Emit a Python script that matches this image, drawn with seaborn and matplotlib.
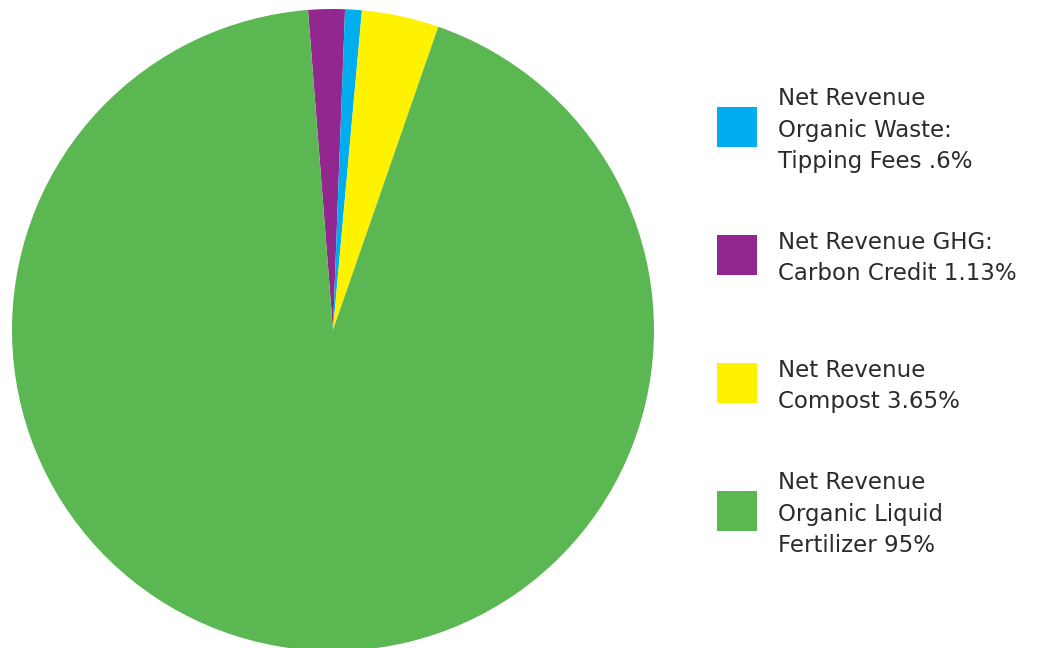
import matplotlib
matplotlib.use("Agg")
import matplotlib.pyplot as plt
from matplotlib.patches import Rectangle
import seaborn as sns

# Slice shares as drawn (clockwise from just left of 12 o'clock)
slice_names = ["GHG", "Organic Waste", "Compost", "Liquid Fertilizer"]
slice_shares = [1.84, 0.84, 3.88, 93.44]
slice_colors = ["#92278F", "#00AEEF", "#FFF200", "#5BB751"]

# Legend order and text
legend_order = [1, 0, 2, 3]
legend_labels = [
    "Net Revenue\nOrganic Waste:\nTipping Fees .6%",
    "Net Revenue GHG:\nCarbon Credit 1.13%",
    "Net Revenue\nCompost 3.65%",
    "Net Revenue\nOrganic Liquid\nFertilizer 95%",
]

sns.set_theme(style="white")
plt.rcParams["font.family"] = ["DejaVu Sans"]

W, H = 1049, 648
fig = plt.figure(figsize=(W / 100, H / 100), dpi=100)
ax = fig.add_axes([12 / W, (H - 651) / H, 642 / W, 642 / H])

wedges, _ = ax.pie(
    slice_shares,
    colors=slice_colors,
    startangle=94.47,
    counterclock=False,
    radius=1,
    frame=False,
    wedgeprops=dict(linewidth=0),
)
ax.set_xlim(-1, 1)
ax.set_ylim(-1, 1)
ax.axis("off")

# legend: evenly spaced squares with text beside them
sq = 40
for i, (idx, label) in enumerate(zip(legend_order, legend_labels)):
    cy = 127 + 128 * i
    fig.add_artist(Rectangle(
        (717 / W, 1 - (cy + sq / 2) / H), sq / W, sq / H,
        transform=fig.transFigure, facecolor=wedges[idx].get_facecolor(),
        edgecolor="none",
    ))
    fig.text(778 / W, 1 - (cy + 3) / H, label, ha="left", va="center",
             fontsize=16.5, color="#2b2b2b", linespacing=1.45)

fig.savefig("out.png", dpi=100)
